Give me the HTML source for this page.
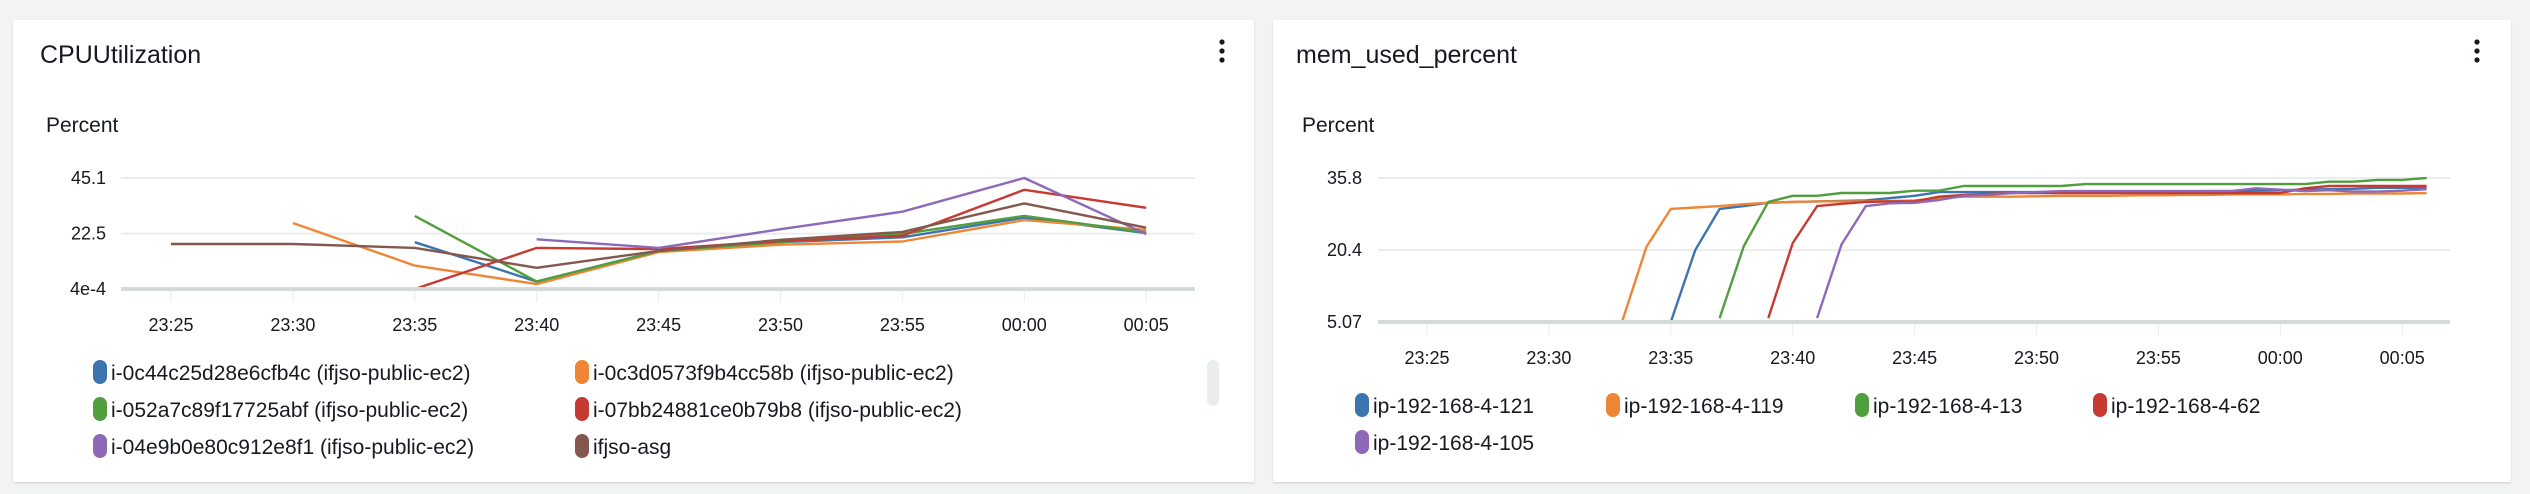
<!DOCTYPE html>
<html><head><meta charset="utf-8">
<style>
body{margin:0;width:2530px;height:494px;background:#f2f3f3;font-family:"Liberation Sans",Arial,sans-serif;overflow:hidden;position:relative}
.card{position:absolute;top:20px;height:462px;background:#fff;box-shadow:0 1px 2px rgba(0,0,0,0.15)}
svg{position:absolute;left:0;top:0}
</style></head><body>
<div class="card" style="left:13px;width:1241px"></div>
<div class="card" style="left:1273px;width:1238px"></div>
<svg id="chart" width="2530" height="494"></svg>
<script>
// ---- CPU chart data (5-minute points, 23:25 .. 00:05) ----
const cpuTickLabels = ["23:25","23:30","23:35","23:40","23:45","23:50","23:55","00:00","00:05"];
const cpuYTicks = [0.0004, 22.5, 45.1];
const cpuYTickLabels = ["4e-4","22.5","45.1"];
const cpuNames = ["i-0c44c25d28e6cfb4c (ifjso-public-ec2)","i-0c3d0573f9b4cc58b (ifjso-public-ec2)","i-052a7c89f17725abf (ifjso-public-ec2)","i-07bb24881ce0b79b8 (ifjso-public-ec2)","i-04e9b0e80c912e8f1 (ifjso-public-ec2)","ifjso-asg"];
const cpuBlue   = [null,null,19,3,15.5,19,21,29,22.7];
const cpuOrange = [null,26.8,9.5,2,15,18,19.3,28,24];
const cpuGreen  = [null,null,29.7,3,15.5,19,22.4,29.7,23];
const cpuRed    = [null,null,0,16.7,16.2,19.5,21.6,40.3,33];
const cpuPurple = [null,null,null,20.2,16.7,24.3,31.4,45.1,22.3];
const cpuBrown  = [18.3,18.3,16.7,8.6,15.5,20,23.2,34.8,24.9];

// ---- Memory chart data (1-minute points, minutes after 23:25) ----
const memTickLabels = ["23:25","23:30","23:35","23:40","23:45","23:50","23:55","00:00","00:05"];
const memYTicks = [5.07, 20.4, 35.8];
const memYTickLabels = ["5.07","20.4","35.8"];
const memNames = ["ip-192-168-4-121","ip-192-168-4-119","ip-192-168-4-13","ip-192-168-4-62","ip-192-168-4-105"];
const memStarts = [10, 8, 12, 14, 16];
const memBlue   = [5.07,20.4,29.2,29.8,30.5,30.7,30.8,30.9,31,31.5,32,32.8,32.8,32.8,32.8,32.8,32.8,32.8,32.8,32.9,32.9,32.9,33,33,33.1,33.2,33.3,33.4,33.5,33.7,33.7,33.7];
const memOrange = [5.07,21.1,29.2,29.5,29.8,30.2,30.5,30.7,30.8,30.8,30.8,30.9,31,31.5,31.8,31.8,31.8,31.9,32,32,32,32.1,32.1,32.2,32.2,32.3,32.3,32.3,32.4,32.4,32.5,32.5,32.5,32.6];
const memGreen  = [5.9,21.3,30.7,32,32,32.6,32.6,32.6,33.1,33.1,34.1,34.1,34.1,34.1,34.1,34.5,34.5,34.5,34.5,34.5,34.5,34.5,34.5,34.5,34.5,35,35,35.4,35.4,35.8];
const memRed    = [5.9,21.9,29.8,30.3,30.7,30.8,30.8,31.8,32.2,32.4,32.6,32.6,32.6,32.6,32.6,32.6,32.6,32.6,32.6,32.6,32.6,32.6,33.6,34.1,34.1,34.1,34.1,34.1];
const memPurple = [5.9,21.6,29.8,30.4,30.5,31.1,32,32.2,32.6,32.8,33,33,33,33,33,33,33,33,33.6,33.3,33,33.2,32.9,32.9,33.1,33.4];

const colors = ["#3a75af","#ef8636","#519e3e","#c53a32","#8d69b8","#84584e"];
const NS = "http://www.w3.org/2000/svg";
const svg = document.getElementById("chart");
function el(tag, attrs, parent){const e=document.createElementNS(NS,tag);for(const k in attrs)e.setAttribute(k,attrs[k]);(parent||svg).appendChild(e);return e;}
function txt(x,y,s,size,anchor,fill,parent){const t=el("text",{x:x,y:y,"font-size":size,"text-anchor":anchor||"start",fill:fill||"#16191f","font-family":"Liberation Sans, Arial, sans-serif"},parent);t.textContent=s;return t;}

function drawPanel(o){
  const g=el("g",{});
  
  
  const title=txt(o.left+27,63,o.title,25,"start","#16191f",g);
  
  
  const menu=el("g",{},g);
  
  
  for(let i=0;i<3;i++) el("circle",{cx:o.menuX,cy:42+i*9,r:2.6,fill:"#16191f"},menu);
  const yl=txt(o.left+33,132,"Percent",21,"start","#16191f",g);
  
  
  const ys=v=>o.y0-(v-o.ymin)/(o.ymax-o.ymin)*(o.y0-o.y1);
  const xs=t=>o.x0+t*o.dx;
  o.yTicks.forEach((v,i)=>{
    const y=ys(v);
    if(i>0){const gl=el("line",{x1:o.px0,x2:o.px1,y1:y,y2:y,stroke:"#eaeded","stroke-width":2},g);
      
      }
    const t=txt(o.ylx,y+6,o.yLabels[i],18,"end","#16191f",g);
    
    
  });
  o.xLabels.forEach((s,i)=>{
    const x=xs(i*o.tickStep);
    el("line",{x1:x,x2:x,y1:o.y0,y2:o.y0+13,stroke:"#eaeded","stroke-width":1},g);
    const t=txt(x,o.y0+42,s,18,"middle","#16191f",g);
    
    
  });
  o.series.forEach((s,si)=>{
    let d="",pen=false;
    s.data.forEach((v,i)=>{
      if(v===null){pen=false;return;}
      d+=(pen?"L":"M")+xs(s.start+i).toFixed(1)+" "+ys(v).toFixed(1)+" ";pen=true;
    });
    const p=el("path",{d:d,fill:"none",stroke:colors[si],"stroke-width":2.4,"stroke-linejoin":"round"},g);
    
    
  });
  const ax=el("line",{x1:o.px0,x2:o.px1,y1:o.y0,y2:o.y0,stroke:"#d5dbdb","stroke-width":4},g);
  
  
  o.names.forEach((n,i)=>{
    const [lx,ly]=o.legendPos(i);
    const lg=el("g",{},g);
    
    
    el("rect",{x:lx,y:ly-12,width:14,height:24,rx:7,fill:colors[i]},lg);
    txt(lx+18,ly+8,n,21,"start","#16191f",lg);
  });
}

drawPanel({name:"cpu-chart",title:"CPUUtilization",left:13,menuX:1222,
  ymin:0,ymax:45.1,y0:289,y1:178,x0:171,dx:121.9,tickStep:1,px0:121,px1:1195,ylx:106,
  yTicks:cpuYTicks,yLabels:cpuYTickLabels,xLabels:cpuTickLabels,names:cpuNames,
  series:[cpuBlue,cpuOrange,cpuGreen,cpuRed,cpuPurple,cpuBrown].map(d=>({start:0,data:d})),
  legendPos:i=>[i%2===0?93:575,372+Math.floor(i/2)*37]});
drawPanel({name:"mem-chart",title:"mem_used_percent",left:1269,menuX:2477,
  ymin:5.07,ymax:35.8,y0:322,y1:178,x0:1427,dx:24.38,tickStep:5,px0:1378,px1:2450,ylx:1362,
  yTicks:memYTicks,yLabels:memYTickLabels,xLabels:memTickLabels,names:memNames,
  series:[memBlue,memOrange,memGreen,memRed,memPurple].map((d,i)=>({start:memStarts[i],data:d})),
  legendPos:i=>[[1355,1606,1855,2093,1355][i],i<4?405:442]});
const sb=el("rect",{x:1207,y:360,width:12,height:46,rx:6,fill:"#eaeded"});


</script>
</body></html>
